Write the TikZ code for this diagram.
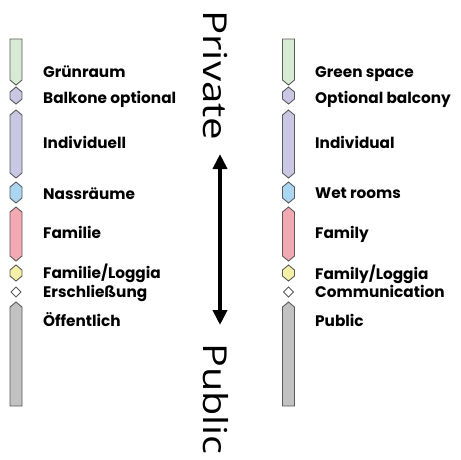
\documentclass[tikz,border=0pt]{standalone}
\usepackage{fontspec}
\setmainfont{Poppins}
\newfontfamily\midfont{Open Sans}
\usetikzlibrary{arrows.meta}
\definecolor{cgreen}{HTML}{D6ECD2}
\definecolor{clav}{HTML}{C9C7E3}
\definecolor{cblue}{HTML}{AAD6F2}
\definecolor{cpink}{HTML}{F2A9B1}
\definecolor{cyel}{HTML}{F5F0A8}
\definecolor{cgray}{HTML}{C2C2C2}
\definecolor{cline}{HTML}{5A5A5A}
\tikzset{
  seg/.style={draw=cline, line width=0.9pt, line join=miter},
  lab/.style={anchor=base west, inner sep=0pt, font=\fontsize{15.3}{15.3}\selectfont\bfseries},
  midlab/.style={anchor=base west, inner sep=0pt, rotate=-90, font=\fontsize{33}{33}\selectfont\midfont},
}
% hex bar: center x, top, bottom, colour
\newcommand\hexbar[4]{%
  \draw[seg, fill=#4] (#1-6,#2+5) -- (#1,#2) -- (#1+6,#2+5) -- (#1+6,#3-5) -- (#1,#3) -- (#1-6,#3-5) -- cycle;}
\newcommand\topbar[4]{%
  \draw[seg, fill=#4] (#1-6,#2) -- (#1+6,#2) -- (#1+6,#3-5) -- (#1,#3) -- (#1-6,#3-5) -- cycle;}
\newcommand\botbar[4]{%
  \draw[seg, fill=#4] (#1-6,#2+5) -- (#1,#2) -- (#1+6,#2+5) -- (#1+6,#3) -- (#1-6,#3) -- cycle;}
\newcommand\diam[3]{%
  \draw[seg, fill=white] (#1,#2) -- (#1+5,#2/2+#3/2) -- (#1,#3) -- (#1-5,#2/2+#3/2) -- cycle;}
\newcommand\column[1]{%
  \topbar{#1}{39}{85}{cgreen}
  \hexbar{#1}{87}{104}{clav}
  \hexbar{#1}{110}{178}{clav}
  \hexbar{#1}{182}{203}{cblue}
  \hexbar{#1}{207}{261}{cpink}
  \hexbar{#1}{265}{281}{cyel}
  \diam{#1}{287}{297}
  \botbar{#1}{302}{406}{cgray}}
\begin{document}
\begin{tikzpicture}[x=1pt,y=-1pt]
\useasboundingbox[fill=white] (0,0) rectangle (461,459);
\column{16}
\column{288.5}
% left labels
\node[lab] (l1) at (43,77) {Grünraum};
\node[lab] (l2) at (43,103) {Balkone optional};
\node[lab] (l3) at (43,148) {Individuell};
\node[lab] (l4) at (43,199) {Nassräume};
\node[lab] (l5) at (43,238) {Familie};
\node[lab] (l6) at (43,278) {Familie/Loggia};
\node[lab] (l7) at (43,297) {Erschließung};
\node[lab] (l8) at (43,326) {Öffentlich};
% right labels
\node[lab] (r1) at (315,77) {Green space};
\node[lab] (r2) at (315,103) {Optional balcony};
\node[lab] (r3) at (315,148) {Individual};
\node[lab] (r4) at (315,198) {Wet rooms};
\node[lab] (r5) at (315,238) {Family};
\node[lab] (r6) at (315,279) {Family/Loggia};
\node[lab] (r7) at (315,297) {Communication};
\node[lab] (r8) at (315,326) {Public};
% middle
\node[midlab] (priv) at (203,10) {\scalebox{1.22}[1]{Private}};
\node[midlab] (pub) at (203,343) {\scalebox{1.2}[1]{Public}};
\coordinate (at) at (220,154);
\coordinate (ab) at (220,325);
\draw[line width=4pt, {Triangle[width=14pt,length=15pt]}-{Triangle[width=14pt,length=15pt]}] (at) -- (ab);
\end{tikzpicture}
\end{document}
